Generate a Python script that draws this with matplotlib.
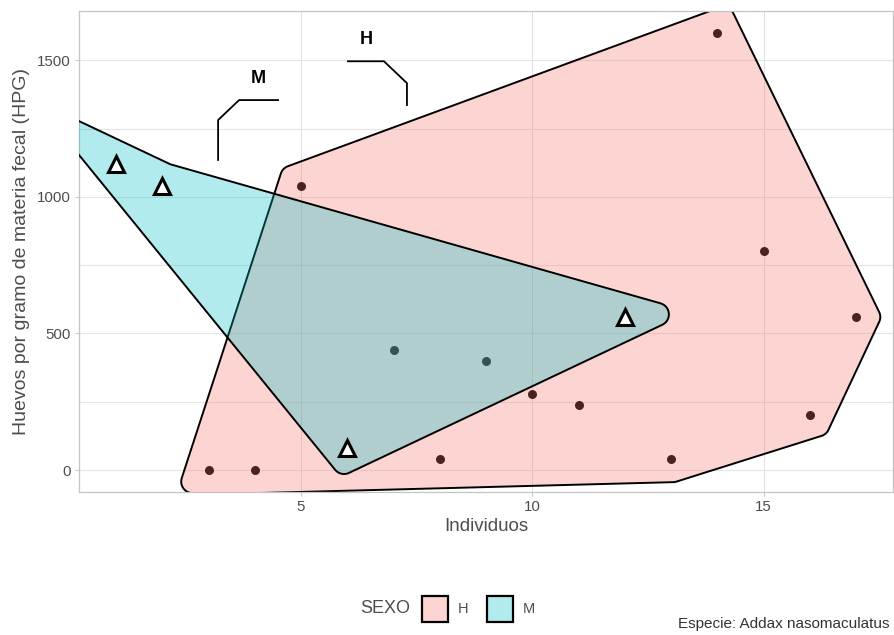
import numpy as np
import matplotlib
matplotlib.use('Agg')
from matplotlib import pyplot as plt
from matplotlib.patches import Polygon, Patch
from matplotlib.colors import to_rgba

plt.rcParams['font.family'] = ['Liberation Sans', 'DejaVu Sans']

# datos por individuo
individuos = [1, 2, 3, 4, 5, 6, 7, 8, 9, 10, 11, 12, 13, 14, 15, 16, 17]
hpg = [1120, 1040, 0, 0, 1040, 80, 440, 40, 400, 280, 240, 560, 40, 1600, 800, 200, 560]
sexo = ['M', 'M', 'H', 'H', 'H', 'M', 'M', 'H', 'M', 'H', 'H', 'M', 'H', 'H', 'H', 'H', 'H']
forma = ['tri', 'tri', 'pt', 'pt', 'pt', 'tri', 'pt', 'pt', 'pt', 'pt', 'pt', 'tri', 'pt', 'pt', 'pt', 'pt', 'pt']

grupos = ['H', 'M']
colores = {'H': '#F8766D', 'M': '#00BFC4'}

EXPAND = 23.0   # px
RADIUS = 11.5   # px
CONCAVITY = 4.0


def convex_hull(p):
    idx = sorted(range(len(p)), key=lambda i: (p[i][0], p[i][1]))

    def cross(o, a, b):
        return (p[a][0] - p[o][0]) * (p[b][1] - p[o][1]) - (p[a][1] - p[o][1]) * (p[b][0] - p[o][0])

    lower, upper = [], []
    for i in idx:
        while len(lower) >= 2 and cross(lower[-2], lower[-1], i) <= 0:
            lower.pop()
        lower.append(i)
    for i in reversed(idx):
        while len(upper) >= 2 and cross(upper[-2], upper[-1], i) <= 0:
            upper.pop()
        upper.append(i)
    return lower[:-1] + upper[:-1]


def segdist(q, a, b):
    ab = b - a
    t = np.clip(np.dot(q - a, ab) / np.dot(ab, ab), 0, 1)
    return np.linalg.norm(q - (a + t * ab))


def concave_hull(p, concavity):
    hull = convex_hull(p)
    inner = [i for i in range(len(p)) if i not in hull]
    changed = True
    while changed and inner:
        changed = False
        n = len(hull)
        for i in range(n):
            a, b = hull[i], hull[(i + 1) % n]
            prv, nxt = hull[i - 1], hull[(i + 2) % n]
            best = None
            for k in inner:
                d = segdist(p[k], p[a], p[b])
                if d < segdist(p[k], p[prv], p[a]) and d < segdist(p[k], p[b], p[nxt]):
                    if best is None or d < best[0]:
                        best = (d, k)
            if best is None:
                continue
            k = best[1]
            lim = np.linalg.norm(p[b] - p[a]) / concavity
            if min(np.linalg.norm(p[k] - p[a]), np.linalg.norm(p[k] - p[b])) <= lim:
                hull.insert(i + 1, k)
                inner.remove(k)
                changed = True
                break
    return [p[i] for i in hull]


def edge_normals(v):
    n = len(v)
    out = []
    for i in range(n):
        d = v[(i + 1) % n] - v[i]
        d = d / np.linalg.norm(d)
        out.append(np.array([d[1], -d[0]]))
    return out


def miter(v, dist):
    nrm = edge_normals(v)
    res = []
    for i in range(len(v)):
        n_in, n_out = nrm[i - 1], nrm[i]
        res.append(v[i] + dist * (n_in + n_out) / (1 + np.dot(n_in, n_out)))
    return res


def rounded(v, r, steps=16):
    nrm = edge_normals(v)
    n = len(v)
    res = []
    for i in range(n):
        n_in, n_out = nrm[i - 1], nrm[i]
        d_in = v[i] - v[i - 1]
        d_out = v[(i + 1) % n] - v[i]
        if d_in[0] * d_out[1] - d_in[1] * d_out[0] > 0:
            a0 = np.arctan2(n_in[1], n_in[0])
            a1 = np.arctan2(n_out[1], n_out[0])
            if a1 < a0:
                a1 += 2 * np.pi
            for a in np.linspace(a0, a1, steps):
                res.append(v[i] + r * np.array([np.cos(a), np.sin(a)]))
        else:
            res.append(v[i] + r * (n_in + n_out) / (1 + np.dot(n_in, n_out)))
    return np.array(res)


fig = plt.figure(figsize=(8.95, 6.35), dpi=100)
ax = fig.add_axes([0.0883, 0.2252, 0.9095, 0.7575])

x = np.array(individuos, dtype=float)
y = np.array(hpg, dtype=float)
xr = x.max() - x.min()
yr = y.max() - y.min()
ax.set_xlim(x.min() - 0.05 * xr, x.max() + 0.05 * xr)
ax.set_ylim(y.min() - 0.05 * yr, y.max() + 0.05 * yr)

# rejilla
ax.set_xticks([5, 10, 15])
ax.set_yticks([0, 500, 1000, 1500])
for gx in [5, 10, 15]:
    ax.axvline(gx, color='#d9d9d9', lw=0.6, zorder=0)
for gy in [0, 250, 500, 750, 1000, 1250, 1500]:
    ax.axhline(gy, color='#e4e4e4', lw=0.8, zorder=0)

for s in ax.spines.values():
    s.set_color('#c4c4c4')
    s.set_linewidth(0.9)
ax.tick_params(length=3, width=0.7, color='#c4c4c4', labelcolor='#4d4d4d', labelsize=10.8, pad=3)

# puntos
ax.scatter(x, y, s=42, color='black', zorder=1, linewidths=0)

# envolventes
trans = ax.transData
for z, g in enumerate(grupos):
    sel = [i for i in range(len(x)) if sexo[i] == g]
    pts = [trans.transform((x[i], y[i])) for i in sel]
    hull = concave_hull([np.array(q) for q in pts], CONCAVITY)
    shape = rounded(miter(hull, EXPAND - RADIUS), RADIUS)
    data_shape = trans.inverted().transform(shape)
    ax.add_patch(Polygon(data_shape, closed=True, facecolor=to_rgba(colores[g], 0.3),
                         edgecolor='black', lw=1.4, zorder=2 + z))

tri = [i for i in range(len(x)) if forma[i] == 'tri']
ax.plot(x[tri], y[tri], ls='none', marker='^', ms=11, mfc='white', mec='black', mew=2.2, zorder=5)

# etiquetas de grupo
ax.plot([3.207, 3.207, 3.661, 4.503], [1135, 1281, 1354, 1354], color='black', lw=1.3, zorder=6, clip_on=False)
ax.text(4.07, 1434, 'M', ha='center', va='center', fontsize=13, fontweight='bold', zorder=6)
ax.plot([6.015, 6.793, 7.29, 7.29], [1496, 1496, 1416, 1336], color='black', lw=1.3, zorder=6, clip_on=False)
ax.text(6.404, 1577, 'H', ha='center', va='center', fontsize=13, fontweight='bold', zorder=6)

ax.set_xlabel('Individuos', fontsize=13.5, color='#4d4d4d', labelpad=3)
ax.set_ylabel('Huevos por gramo de materia fecal (HPG)', fontsize=14, color='#4d4d4d', labelpad=5)

# leyenda
handles = [Patch(facecolor=to_rgba(colores[g], 0.3), edgecolor='black', lw=1.6) for g in grupos]
fig.legend(handles, grupos, loc='center left', bbox_to_anchor=(0.4715, 0.041), ncol=2, frameon=False,
           fontsize=10.5, handlelength=1.78, handleheight=2.36, columnspacing=1.24, handletextpad=0.69,
           borderpad=0, borderaxespad=0, labelcolor='#4d4d4d')
fig.text(0.43, 0.041, 'SEXO', ha='center', va='center', fontsize=13, color='#4d4d4d')
fig.text(0.994, 0.017, 'Especie: Addax nasomaculatus', ha='right', va='center', fontsize=11, color='#333333')

fig.savefig('out.png', dpi=100)
